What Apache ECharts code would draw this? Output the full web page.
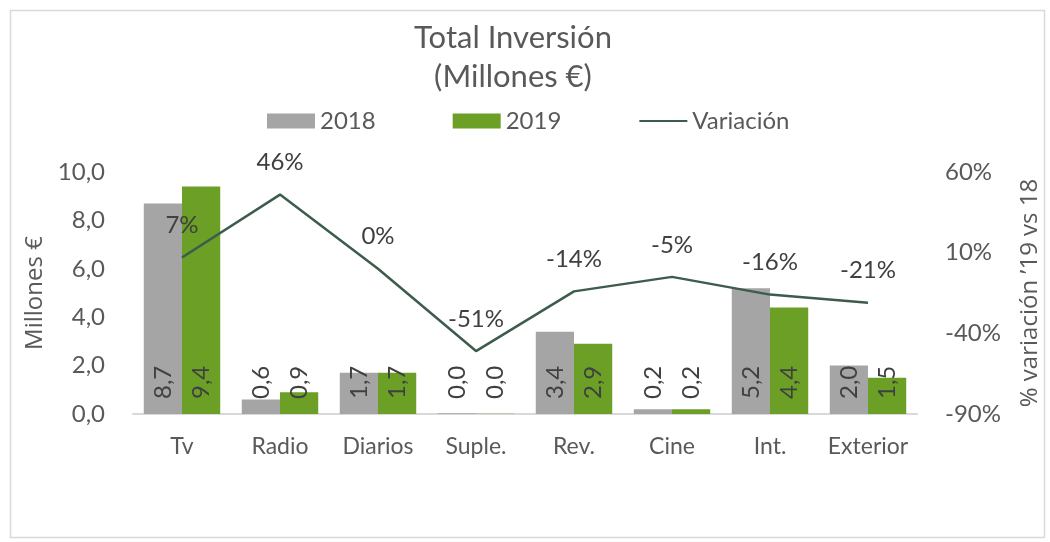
<!DOCTYPE html>
<html>
<head>
<meta charset="utf-8">
<script src="https://cdn.jsdelivr.net/npm/echarts@6/dist/echarts.min.js"></script>
<style>
  html, body { margin: 0; padding: 0; background: #fff; }
  #chart { width: 1050px; height: 542px; }
</style>
</head>
<body>
<div id="chart"></div>
<script>
// categorías y datos
const categories = ['Tv', 'Radio', 'Diarios', 'Suple.', 'Rev.', 'Cine', 'Int.', 'Exterior']
const inversion2018 = [8.7, 0.6, 1.7, 0.03, 3.4, 0.2, 5.2, 2.0]
const inversion2019 = [9.4, 0.9, 1.7, 0.01, 2.9, 0.2, 4.4, 1.5]
const variacion = [0.07, 0.46, 0.00, -0.51, -0.14, -0.05, -0.16, -0.21]

const font = 'Lato, "Liberation Sans", sans-serif'
const nameFont = '"Open Sans", sans-serif'
const fmtMillones = v => v.toFixed(1).replace('.', ',')
const fmtPct = v => Math.round(v * 100) + '%'

const barLabel = {
  show: true,
  position: 'insideBottom',
  rotate: 90,
  align: 'left',
  verticalAlign: 'middle',
  distance: 15,
  color: '#404040',
  fontSize: 24,
  fontFamily: font,
  formatter: p => fmtMillones(p.value)
}

const option = {
  animation: false,
  textStyle: { fontFamily: font },
  title: {
    text: 'Total Inversión\n(Millones €)',
    left: 508,
    textAlign: 'center',
    top: 13,
    textStyle: { fontSize: 31, fontWeight: 'normal', color: '#595959', lineHeight: 39, fontFamily: font }
  },
  legend: {
    top: 104,
    left: 262,
    itemWidth: 48,
    itemHeight: 15,
    itemGap: 77,
    textStyle: { fontSize: 24, color: '#595959', fontFamily: font },
    data: [
      { name: '2018', icon: 'rect' },
      { name: '2019', icon: 'rect' },
      { name: 'Variación', itemStyle: { opacity: 0 } }
    ]
  },
  grid: { left: 133, right: 133, top: 172, bottom: 128 },
  xAxis: {
    type: 'category',
    data: categories,
    axisLine: { lineStyle: { color: '#d9d9d9', width: 2 } },
    axisTick: { show: false },
    axisLabel: { interval: 0, fontSize: 23, color: '#595959', margin: 21, fontFamily: font }
  },
  yAxis: [
    {
      type: 'value',
      min: 0,
      max: 10,
      interval: 2,
      name: 'Millones €',
      nameLocation: 'middle',
      nameRotate: 90,
      nameGap: 85,
      nameTextStyle: { fontSize: 24, color: '#595959', fontFamily: nameFont },
      splitLine: { show: false },
      axisLine: { show: false },
      axisTick: { show: false },
      axisLabel: { fontSize: 24, color: '#595959', margin: 28, formatter: fmtMillones, fontFamily: font }
    },
    {
      type: 'value',
      min: -0.9,
      max: 0.6,
      interval: 0.5,
      name: '% variación ’19 vs 18',
      nameLocation: 'middle',
      nameRotate: 90,
      nameGap: 101,
      nameTextStyle: { fontSize: 24, color: '#595959', fontFamily: nameFont },
      splitLine: { show: false },
      axisLine: { show: false },
      axisTick: { show: false },
      axisLabel: { fontSize: 24, color: '#595959', margin: 28, formatter: fmtPct, fontFamily: font }
    }
  ],
  series: [
    {
      name: '2018',
      type: 'bar',
      data: inversion2018,
      barGap: '0%',
      barCategoryGap: '22%',
      itemStyle: { color: '#a5a5a5' },
      label: barLabel
    },
    {
      name: '2019',
      type: 'bar',
      data: inversion2019,
      itemStyle: { color: '#6b9f25' },
      label: barLabel
    },
    {
      name: 'Variación',
      type: 'line',
      yAxisIndex: 1,
      data: variacion,
      symbol: 'circle',
      symbolSize: 0.1,
      showSymbol: true,
      lineStyle: { color: '#3d5c4b', width: 2.5 },
      itemStyle: { color: '#3d5c4b' },
      label: {
        show: true,
        position: 'top',
        distance: 20,
        fontSize: 24,
        color: '#404040',
        fontFamily: font,
        formatter: p => fmtPct(p.value)
      },
      z: 5
    }
  ],
  graphic: [
    {
      type: 'rect',
      shape: { x: 10.5, y: 10.5, width: 1034, height: 527 },
      style: { fill: 'none', stroke: '#d9d9d9', lineWidth: 1.5 },
      silent: true
    }
  ]
}

const myChart = echarts.init(document.getElementById('chart'))
myChart.setOption(option)
window.addEventListener('resize', () => {
  myChart.resize()
})
</script>
</body>
</html>
